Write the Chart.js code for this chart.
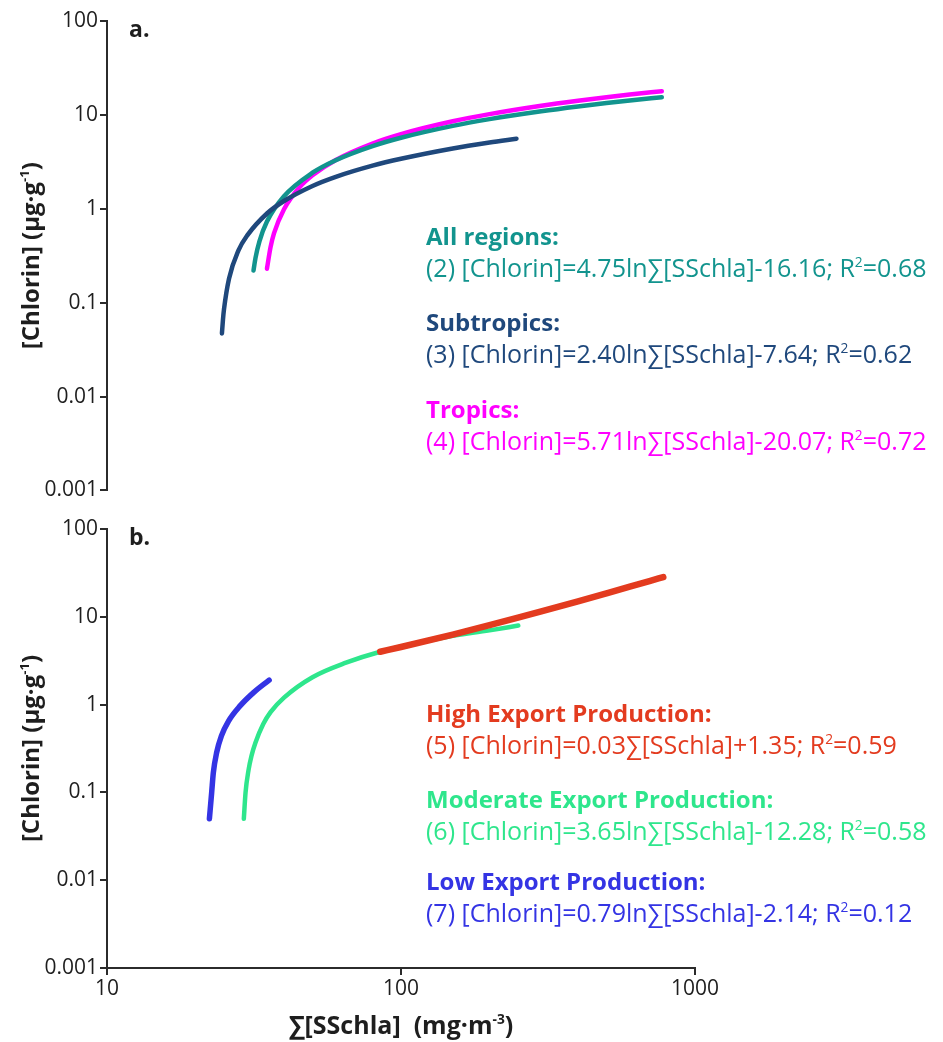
<!DOCTYPE html>
<html><head><meta charset="utf-8">
<script src="https://cdn.jsdelivr.net/npm/chart.js@4.4.1/dist/chart.umd.min.js"></script>
<style>
html,body{margin:0;padding:0;background:#fff;}
#wrap{position:relative;width:943px;height:1042px;overflow:hidden;}
#ca{position:absolute;left:0;top:0;}
#cb{position:absolute;left:0;top:505px;}
</style></head><body>
<div id="wrap"><canvas id="ca" width="943" height="505"></canvas><canvas id="cb" width="943" height="537"></canvas></div>
<script>
// ---- tick labels ----
const yTickValues = [0.001, 0.01, 0.1, 1, 10, 100];
const yTickLabels = ['0.001', '0.01', '0.1', '1', '10', '100'];
const xTickValues = [10, 100, 1000];
const xTickLabels = ['10', '100', '1000'];

// ---- panel a series ----
const allRegionsX = [31.5, 32, 33, 35, 40, 50, 60, 80, 100, 150, 200, 300, 400, 500, 600, 771];
const allRegionsY = [0.22, 0.30, 0.45, 0.73, 1.36, 2.42, 3.29, 4.65, 5.71, 7.64, 9.01, 10.93, 12.30, 13.36, 14.23, 15.42];
const subtropicsX = [24.6, 24.8, 25, 26, 28, 30, 35, 40, 50, 60, 80, 100, 150, 200, 247];
const subtropicsY = [0.047, 0.066, 0.085, 0.18, 0.36, 0.52, 0.89, 1.21, 1.75, 2.19, 2.88, 3.41, 4.39, 5.08, 5.58];
const tropicsX = [35, 36, 37, 40, 45, 50, 60, 80, 100, 150, 200, 300, 400, 500, 600, 771];
const tropicsY = [0.23, 0.39, 0.55, 0.99, 1.67, 2.27, 3.31, 4.95, 6.23, 8.54, 10.18, 12.50, 14.14, 15.42, 16.46, 17.89];

// ---- panel b series ----
const lowX = [22.3, 22.7, 23.0, 23.6, 24.5, 25.9, 28.3, 31.5, 35.6];
const lowY = [0.05, 0.10, 0.168, 0.284, 0.44, 0.65, 0.96, 1.37, 1.9];
const moderateX = [29.2, 29.6, 30.3, 31, 32, 34, 36, 40, 50, 65, 85, 143, 200, 250.6];
const moderateY = [0.05, 0.10, 0.18, 0.26, 0.37, 0.60, 0.82, 1.2, 2.05, 3.0, 4.0, 5.9, 7.0, 7.95];
const highX = [85, 100, 150, 200, 250, 300, 400, 500, 600, 700, 780];
const highY = [4.0, 4.53, 6.27, 8.02, 9.77, 11.52, 15.0, 18.5, 22.0, 25.5, 28.3];

// ---- annotation texts ----
const panelLabels = ['a.', 'b.'];
const aHeads = ['All regions:', 'Subtropics:', 'Tropics:'];
const aEqs = ['(2) [Chlorin]=4.75ln∑[SSchla]-16.16; R', '(3) [Chlorin]=2.40ln∑[SSchla]-7.64; R', '(4) [Chlorin]=5.71ln∑[SSchla]-20.07; R'];
const aR2 = ['=0.68', '=0.62', '=0.72'];
const bHeads = ['High Export Production:', 'Moderate Export Production:', 'Low Export Production:'];
const bEqs = ['(5) [Chlorin]=0.03∑[SSchla]+1.35; R', '(6) [Chlorin]=3.65ln∑[SSchla]-12.28; R', '(7) [Chlorin]=0.79ln∑[SSchla]-2.14; R'];
const bR2 = ['=0.59', '=0.58', '=0.12'];
const yTitle = ['[Chlorin] (μg·g', '-1', ')'];
const xTitle = ['∑[SSchla]  (mg·m', '-3', ')'];

// ---- styles ----
const C = {
  teal: '#12948e', navy: '#1f487c', magenta: '#ff00ff',
  red: '#e33b1f', green: '#2ee68c', blue: '#3434e4', axis: '#2b2b2b', text: '#1e1e1e'
};
const FONT = '"Open Sans", "DejaVu Sans", sans-serif';

function pts(xs, ys) { return xs.map((x, i) => ({ x: x, y: ys[i] })); }

function drawRich(ctx, x, y, segs, size, weight, color) {
  let cx = x;
  ctx.fillStyle = color;
  ctx.textBaseline = 'alphabetic';
  ctx.textAlign = 'left';
  segs.forEach(([t, sup]) => {
    const fs = sup ? size * 0.55 : size;
    ctx.font = weight + ' ' + fs + 'px ' + FONT;
    ctx.fillText(t, cx, sup ? y - size * 0.42 : y);
    cx += ctx.measureText(t).width;
  });
  return cx - x;
}
function measureRich(ctx, segs, size, weight) {
  let w = 0;
  segs.forEach(([t, sup]) => {
    const fs = sup ? size * 0.55 : size;
    ctx.font = weight + ' ' + fs + 'px ' + FONT;
    w += ctx.measureText(t).width;
  });
  return w;
}

function yScale() {
  return {
    type: 'logarithmic', min: 0.001, max: 100,
    afterBuildTicks: s => { s.ticks = yTickValues.map(v => ({ value: v })); },
    afterFit: s => { s.width = 107; },
    ticks: {
      callback: (v, i) => yTickLabels[i],
      font: { family: FONT, size: 21 }, color: C.text, padding: 2, autoSkip: false, maxRotation: 0
    },
    grid: { drawOnChartArea: false, drawTicks: true, tickLength: 7, color: C.axis, lineWidth: 2 },
    border: { display: true, color: C.axis, width: 2 },
    title: { display: false }
  };
}
function xScale(show) {
  const s = {
    type: 'logarithmic', min: 10, max: 1000, display: show,
    afterBuildTicks: s => { s.ticks = xTickValues.map(v => ({ value: v })); },
    ticks: {
      callback: (v, i) => xTickLabels[i],
      font: { family: FONT, size: 21 }, color: C.text, padding: 1, autoSkip: false, maxRotation: 0
    },
    grid: { drawOnChartArea: false, drawTicks: true, tickLength: 7, color: C.axis, lineWidth: 2 },
    border: { display: true, color: C.axis, width: 2 }
  };
  if (show) s.afterFit = sc => { sc.height = 74; };
  return s;
}
function ds(label, data, color, width, order) {
  return {
    label: label, data: data, borderColor: color, backgroundColor: color,
    borderWidth: width, pointRadius: 0, borderCapStyle: 'round', borderJoinStyle: 'round',
    cubicInterpolationMode: 'monotone', fill: false, order: order, showLine: true
  };
}

function textPlugin(panel) {
  return {
    id: 'txt' + panel,
    afterDraw(chart) {
      const ctx = chart.ctx; const a = chart.chartArea;
      ctx.save();
      // panel label
      ctx.font = 'bold 23px ' + FONT; ctx.fillStyle = C.text; ctx.textAlign = 'left'; ctx.textBaseline = 'alphabetic';
      ctx.fillText(panelLabels[panel], 129, a.top + 16);
      // y title (rotated)
      const cy = (a.top + a.bottom) / 2;
      const ys = yTitle.map((t, i) => [t, i === 1]);
      const w = measureRich(ctx, ys, 24, 'bold');
      ctx.translate(39, cy); ctx.rotate(-Math.PI / 2);
      drawRich(ctx, -w / 2, 0, ys, 24, 'bold', C.text);
      ctx.restore();
      ctx.save();
      const heads = panel === 0 ? aHeads : bHeads;
      const eqs = panel === 0 ? aEqs : bEqs;
      const r2 = panel === 0 ? aR2 : bR2;
      const cols = panel === 0 ? [C.teal, C.navy, C.magenta] : [C.red, C.green, C.blue];
      const base = panel === 0 ? [245, 331, 418] : [217, 303, 385];
      for (let i = 0; i < 3; i++) {
        drawRich(ctx, 426, base[i], [[heads[i], false]], 24, 'bold', cols[i]);
        drawRich(ctx, 426, base[i] + 32, [[eqs[i], false], ['2', true], [r2[i], false]], 25, 'normal', cols[i]);
      }
      if (panel === 1) {
        const segs = xTitle.map((t, i) => [t, i === 1]);
        const tw = measureRich(ctx, segs, 25, 'bold');
        drawRich(ctx, (a.left + a.right) / 2 - tw / 2, 529, segs, 25, 'bold', C.text);
      }
      ctx.restore();
    }
  };
}

new Chart(document.getElementById('ca'), {
  type: 'scatter',
  data: { datasets: [
    ds('Subtropics', pts(subtropicsX, subtropicsY), C.navy, 4.5, 0),
    ds('All regions', pts(allRegionsX, allRegionsY), C.teal, 4.5, 1),
    ds('Tropics', pts(tropicsX, tropicsY), C.magenta, 4.5, 2)
  ] },
  options: {
    responsive: false, animation: false, devicePixelRatio: 1,
    layout: { padding: { left: 0, top: 21, right: 248, bottom: 12 } },
    plugins: { legend: { display: false }, tooltip: { enabled: false } },
    scales: { x: xScale(false), y: yScale() }
  },
  plugins: [textPlugin(0)]
});

new Chart(document.getElementById('cb'), {
  type: 'scatter',
  data: { datasets: [
    ds('High Export Production', pts(highX, highY), C.red, 6.5, 0),
    ds('Moderate Export Production', pts(moderateX, moderateY), C.green, 4.5, 1),
    ds('Low Export Production', pts(lowX, lowY), C.blue, 5.5, 2)
  ] },
  options: {
    responsive: false, animation: false, devicePixelRatio: 1,
    layout: { padding: { left: 0, top: 24, right: 248, bottom: 0 } },
    plugins: { legend: { display: false }, tooltip: { enabled: false } },
    scales: { x: xScale(true), y: yScale() }
  },
  plugins: [textPlugin(1)]
});
</script>
</body></html>
